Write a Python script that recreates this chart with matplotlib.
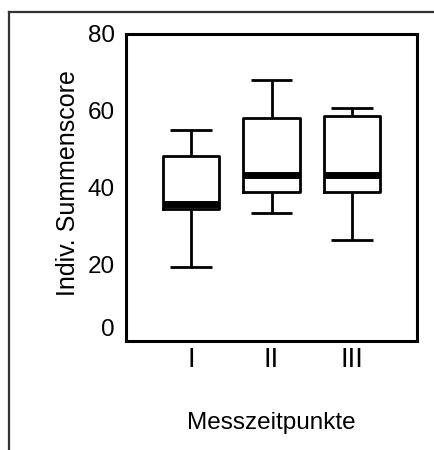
import matplotlib
matplotlib.use("Agg")
import matplotlib.pyplot as plt
from matplotlib.lines import Line2D
from matplotlib.transforms import ScaledTranslation

plt.rcParams['font.family'] = ['Liberation Sans', 'DejaVu Sans']

# Measurement points and box statistics of the individual sum score
categories = ["I", "II", "III"]
whisker_low = [19.3, 33.4, 26.3]
q1 = [34.3, 38.9, 38.9]
median = [35.8, 43.2, 43.2]
q3 = [48.2, 58.0, 58.7]
whisker_high = [55.1, 67.9, 60.8]
y_ticks = [0, 20, 40, 60, 80]

fig = plt.figure(figsize=(4.34, 4.5), dpi=100)
fig.patch.set_facecolor("white")
ax = fig.add_axes([126 / 434, 1 - 341 / 450, 291 / 434, 307 / 450])

stats = [
    dict(label=c, whislo=lo, q1=a, med=m, q3=b, whishi=hi, fliers=[])
    for c, lo, a, m, b, hi in zip(categories, whisker_low, q1, median, q3, whisker_high)
]
positions = list(range(1, len(categories) + 1))
line = dict(color="black", linewidth=2.0, solid_capstyle="butt")
ax.bxp(
    stats,
    positions=positions,
    widths=0.7,
    capwidths=0.52,
    showfliers=False,
    boxprops=dict(color="black", linewidth=2.0),
    whiskerprops=line,
    capprops=line,
    medianprops=dict(color="black", linewidth=5.0, solid_capstyle="butt"),
)

ax.set_xlim(0.193, len(categories) + 0.807)
ax.set_ylim(0, 80)
ax.set_yticks(y_ticks)
ax.set_yticklabels([str(t) for t in y_ticks], fontsize=17.5)
ax.set_xticks(positions)
ax.set_xticklabels(categories, fontsize=20)
ax.tick_params(axis="both", length=0)
ax.tick_params(axis="y", pad=8)
ax.tick_params(axis="x", pad=4)

# lift the "0" label slightly above the bottom edge
zero_label = ax.get_yticklabels()[0]
zero_label.set_transform(zero_label.get_transform() + ScaledTranslation(0, 13 / 100, fig.dpi_scale_trans))

for sp in ax.spines.values():
    sp.set_linewidth(2.2)
    sp.set_color("black")

ax.set_xlabel("Messzeitpunkte", fontsize=17.5)
ax.set_ylabel("Indiv. Summenscore", fontsize=18)
ax.xaxis.set_label_coords(0.5, -0.232)
ax.yaxis.set_label_coords(-0.158, 0.515)

# outer frame (top and left edge)
fy = 1 - 12 / 450
fx = 9 / 434
fig.add_artist(Line2D([fx, 1], [fy, fy], transform=fig.transFigure, color="#333333", linewidth=1.6))
fig.add_artist(Line2D([fx, fx], [0, fy], transform=fig.transFigure, color="#333333", linewidth=1.6))

fig.savefig("out.png", dpi=100, facecolor="white")
